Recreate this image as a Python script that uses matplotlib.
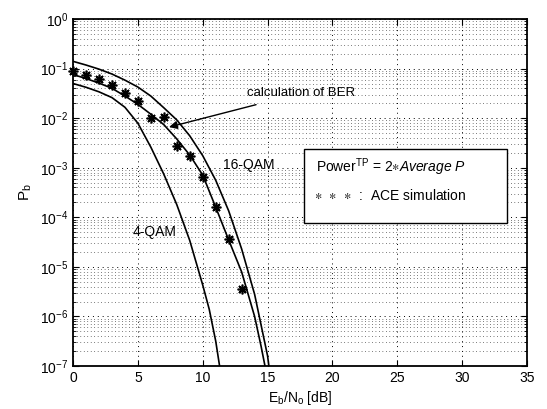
'''Bit error rate vs Eb/No for 4-QAM and 16-QAM, with ACE simulation points.'''

import matplotlib
matplotlib.use("Agg")
import matplotlib.pyplot as plt
from matplotlib.patches import Rectangle

plt.rcParams['font.family'] = ['Liberation Sans', 'DejaVu Sans']
plt.rcParams['mathtext.fontset'] = 'custom'
plt.rcParams['mathtext.rm'] = 'Liberation Sans'
plt.rcParams['mathtext.it'] = 'Liberation Sans:italic'
plt.rcParams['mathtext.sf'] = 'Liberation Sans'
plt.rcParams['mathtext.default'] = 'regular'

# Curves
snr_4qam = [0, 1, 2, 3, 4, 5, 6, 7, 8, 9, 10, 10.5, 11, 11.3]
ber_4qam = [5.0e-2, 4.2e-2, 3.4e-2, 2.6e-2, 1.66e-2, 7.9e-3, 2.6e-3, 7.4e-4,
            1.8e-4, 3.4e-5, 4.3e-6, 1.4e-6, 3.2e-7, 1.0e-7]

snr_16qam_hi = [0, 1, 2, 3, 4, 5, 6, 7, 8, 9, 10, 11, 12, 13, 14, 15, 15.1]
ber_16qam_hi = [0.14, 0.118, 0.0975, 0.0777, 0.0585, 0.0424, 0.0279, 0.0162,
                0.0092, 0.0044, 1.75e-3, 5.6e-4, 1.35e-4, 2.3e-5, 2.8e-6,
                1.6e-7, 1.0e-7]

snr_16qam_lo = [0, 1, 2, 3, 4, 5, 6, 7, 8, 9, 10, 11, 12, 13, 14, 14.5, 14.8]
ber_16qam_lo = [0.076, 0.063, 0.051, 0.040, 0.028, 0.019, 0.012, 0.0074,
                0.0038, 0.0018, 7.1e-4, 1.6e-4, 3.5e-5, 7.9e-6, 1.0e-6,
                2.5e-7, 1.0e-7]

# ACE simulation points
snr_ace = [0, 1, 2, 3, 4, 5, 6, 7, 8, 9, 10, 11, 12, 13]
ber_ace = [0.089, 0.074, 0.061, 0.047, 0.032, 0.022, 0.0099, 0.0107,
           0.0027, 0.0017, 6.6e-4, 1.6e-4, 3.7e-5, 3.5e-6]

# axis ticks
x_ticks = [0, 5, 10, 15, 20, 25, 30, 35]
y_exps = [-7, -6, -5, -4, -3, -2, -1, 0]

fig = plt.figure(figsize=(5.47, 4.09), dpi=100)
ax = fig.add_axes([0.1335, 0.1051, 0.8299, 0.8484])

ax.semilogy(snr_4qam, ber_4qam, color='black', lw=1.2)
ax.semilogy(snr_16qam_hi, ber_16qam_hi, color='black', lw=1.2)
ax.semilogy(snr_16qam_lo, ber_16qam_lo, color='black', lw=1.2)
ax.semilogy(snr_ace, ber_ace, linestyle='none', marker=(8, 2, 0),
            markersize=7, markeredgewidth=1.2, color='black', clip_on=False)

ax.set_xlim(0, 35)
ax.set_ylim(1e-7, 1e0)
ax.set_xticks(x_ticks)
ax.set_yticks([10.0 ** e for e in y_exps])
ax.set_yticklabels([r'$10^{%d}$' % e for e in y_exps])
ax.set_yticks([m * 10.0 ** e for e in y_exps[:-1] for m in range(2, 10)], minor=True)
ax.set_yticklabels([], minor=True)

# dotted MATLAB style grid
ax.grid(True, which='major', color='black', linestyle=(0, (1, 4)), linewidth=0.7)
ax.grid(True, which='minor', axis='y', color='black', linestyle=(0, (1, 4)), linewidth=0.5)

ax.tick_params(which='both', direction='in', labelsize=10, top=True, right=True)
ax.tick_params(which='major', length=4)
ax.tick_params(which='minor', length=2)
for s in ax.spines.values():
    s.set_linewidth(1.3)

ax.set_xlabel(r'E$_b$/N$_o$ [dB]', fontsize=10, labelpad=3)
ax.set_ylabel(r'P$_b$', fontsize=11, labelpad=4)

# annotations
ax.annotate('calculation of BER', xy=(7.4, 6.6e-3), xytext=(13.4, 3.2e-2),
            fontsize=9.5, va='center', ha='left',
            arrowprops=dict(arrowstyle='-|>', color='black', lw=1.0,
                            mutation_scale=12, shrinkA=8, shrinkB=0))
ax.text(11.6, 1.15e-3, '16-QAM', fontsize=10, va='center', ha='left')
ax.text(4.6, 5.1e-5, '4-QAM', fontsize=10, va='center', ha='left')

# legend box
ax.add_patch(Rectangle((0.509, 0.411), 0.447, 0.213, transform=ax.transAxes,
                       facecolor='white', edgecolor='black', lw=1.0, zorder=5))
ax.text(0.535, 0.572, r'Power$^{\mathsf{TP}}$ = 2$\ast$$\it{Average\ P}$',
        transform=ax.transAxes, fontsize=10, va='center', ha='left', zorder=6)
ax.text(0.53, 0.49, r'$\ast$  $\ast$  $\ast$  :  ACE simulation',
        transform=ax.transAxes, fontsize=10, va='center', ha='left', zorder=6)

plt.savefig('out.png', dpi=100)
